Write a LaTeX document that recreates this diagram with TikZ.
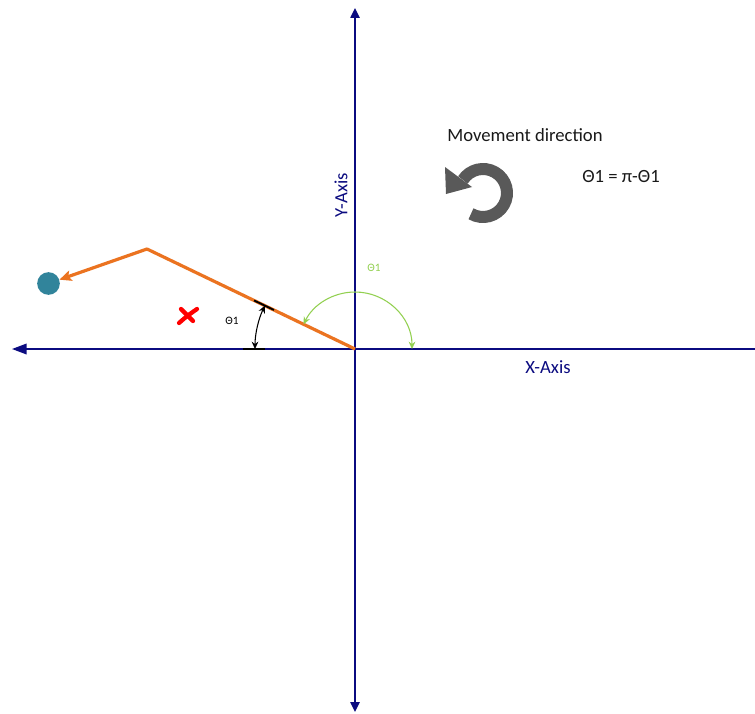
\documentclass[tikz,border=0pt]{standalone}
\usepackage{fontspec}
\setmainfont{Carlito}
\usetikzlibrary{arrows.meta}
\definecolor{axisblue}{HTML}{0B0B80}
\definecolor{pathorange}{HTML}{EB7320}
\definecolor{ballteal}{HTML}{31849B}
\definecolor{anglegreen}{HTML}{92D050}
\definecolor{icongray}{HTML}{595959}
\tikzset{axis/.style={draw=axisblue,line width=1.1pt},axlabel/.style={text=axisblue,font=\fontsize{14}{16}\selectfont},note/.style={text=black!90,font=\fontsize{14}{16}\selectfont},anglab/.style={font=\fontsize{8.5}{10}\selectfont},route/.style={draw=pathorange,line width=2.4pt,line join=round},ang/.style={{Stealth[length=5.5pt,width=5pt]}-{Stealth[length=5.5pt,width=5pt]},line width=0.8pt},tick/.style={line width=1.4pt}}

\begin{document}
\begin{tikzpicture}[x=0.75pt,y=0.75pt]
\useasboundingbox (0,0) rectangle (755,-713);
\fill[white] (0,0) rectangle (755,-713);
\coordinate (O) at (355,-349);
\coordinate (xend) at (755,-349);\coordinate (xtip) at (12,-349);
\coordinate (ytop) at (355,-8);\coordinate (ybot) at (355,-712);
\draw[axis,-{Triangle[length=11pt,width=8pt]}] (xend)--(xtip);
\draw[axis,{Triangle[length=7.5pt,width=7pt]}-{Triangle[length=7.5pt,width=7pt]}] (ybot)--(ytop);
\node[axlabel] (xlab) at (548,-367) {X-Axis};
\node[axlabel,rotate=90] (ylab) at (341,-195) {Y-Axis};
\coordinate (bend) at (147,-249);
\node[circle,fill=ballteal,minimum size=17pt,inner sep=0pt] (ball) at (48.5,-283.5) {};
\draw[route,-{Stealth[length=9pt,width=8pt,inset=2pt]}] (O)--(bend)--(ball);
\draw[ang] ([shift={(180:100)}]O) arc[start angle=180,end angle=154.3,radius=100];
\draw[tick] ([shift={(180:90)}]O)--([shift={(180:112)}]O);
\draw[tick] ([shift={(154.3:90)}]O)--([shift={(154.3:112)}]O);
\draw[ang,draw=anglegreen] ([shift={(0:57)}]O) arc[start angle=0,end angle=154.3,radius=57];
\node[anglab] (thblack) at (232,-321) {Θ1};
\node[anglab,text=anglegreen] (thgreen) at (374,-268) {Θ1};
\draw[red,line width=3.2pt,line cap=round] (179,-323) .. controls (187,-316) .. (197,-309);
\draw[red,line width=3.2pt,line cap=round] (181,-309)--(193,-321);
\node[note] (move) at (525,-135) {Movement direction};
\node[note] (rule) at (621,-177) {Θ1 = π-Θ1};
\coordinate (rot) at (483,-193);
\draw[icongray,line width=9pt] ([shift={(240:24)}]rot) arc[start angle=240,end angle=507,radius=24];
\fill[icongray] (445,-167)--(446,-194)--(472,-187)--cycle;
\end{tikzpicture}
\end{document}
